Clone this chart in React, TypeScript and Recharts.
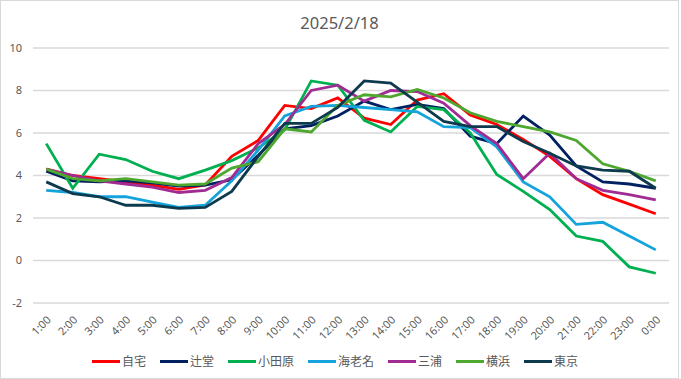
import React from "react"
import { LineChart, Line, XAxis, YAxis, CartesianGrid, Legend } from "recharts"

const hours = [
  "1:00", "2:00", "3:00", "4:00", "5:00", "6:00", "7:00", "8:00", "9:00", "10:00", "11:00", "12:00",
  "13:00", "14:00", "15:00", "16:00", "17:00", "18:00", "19:00", "20:00", "21:00", "22:00", "23:00", "0:00",
]

const jitaku = [4.3, 4.0, 3.85, 3.7, 3.55, 3.35, 3.55, 4.9, 5.65, 7.3, 7.15, 7.65, 6.7, 6.4, 7.55, 7.85, 6.85, 6.4, 5.7, 4.9, 3.85, 3.1, 2.65, 2.2]
const tsujido = [4.2, 3.75, 3.7, 3.75, 3.65, 3.5, 3.55, 3.8, 4.95, 6.2, 6.35, 6.8, 7.5, 7.1, 7.35, 7.15, 5.85, 5.5, 6.8, 5.9, 4.45, 3.7, 3.6, 3.4]
const odawara = [5.5, 3.4, 5.0, 4.75, 4.2, 3.85, 4.25, 4.7, 5.3, 6.15, 8.45, 8.25, 6.6, 6.05, 7.25, 7.1, 6.0, 4.05, 3.25, 2.4, 1.15, 0.9, -0.3, -0.6]
const ebina = [3.3, 3.2, 3.0, 3.0, 2.75, 2.5, 2.6, 3.75, 5.2, 6.8, 7.25, 7.3, 7.2, 7.1, 7.0, 6.3, 6.25, 5.35, 3.7, 3.0, 1.7, 1.8, 1.15, 0.5]
const miura = [4.3, 4.0, 3.75, 3.6, 3.45, 3.2, 3.3, 3.9, 5.5, 6.4, 8.0, 8.25, 7.5, 8.0, 7.95, 7.4, 6.35, 5.5, 3.85, 5.05, 3.85, 3.3, 3.1, 2.85]
const yokohama = [4.3, 3.85, 3.75, 3.85, 3.7, 3.55, 3.6, 4.35, 4.65, 6.2, 6.05, 7.3, 7.8, 7.7, 8.05, 7.65, 6.95, 6.55, 6.3, 6.05, 5.65, 4.55, 4.2, 3.75]
const tokyo = [3.7, 3.15, 3.0, 2.6, 2.6, 2.45, 2.5, 3.25, 4.9, 6.45, 6.45, 7.2, 8.45, 8.35, 7.45, 6.55, 6.3, 6.3, 5.6, 5.05, 4.45, 4.25, 4.2, 3.4]

const yTicks = [-2, 0, 2, 4, 6, 8, 10]

const series = [
  { key: "自宅", values: jitaku, color: "#FF0000" },
  { key: "辻堂", values: tsujido, color: "#002060" },
  { key: "小田原", values: odawara, color: "#00B050" },
  { key: "海老名", values: ebina, color: "#14A3DB" },
  { key: "三浦", values: miura, color: "#A02B93" },
  { key: "横浜", values: yokohama, color: "#4EA72E" },
  { key: "東京", values: tokyo, color: "#0E3A4E" },
]

const data = hours.map((h, i) => {
  const row: Record<string, string | number> = { hour: h }
  series.forEach(s => { row[s.key] = s.values[i] })
  return row
})

const font = '"Noto Sans", "Noto Sans CJK JP", sans-serif'

// keep the series order (Recharts sorts the payload by default)
const renderLegend = () => (
  <div style={{ display: "flex", justifyContent: "center", gap: 14, fontFamily: font, fontSize: 12, color: "#595959" }}>
    {series.map(s => (
      <div key={s.key} style={{ display: "flex", alignItems: "center" }}>
        <div style={{ width: 28, height: 3, background: s.color, marginRight: 2 }} />
        <span>{s.key}</span>
      </div>
    ))}
  </div>
)

export default function App() {
  return (
    <div style={{ position: "absolute", left: 0, top: 0, width: 677, height: 377, border: "1px solid #d9d9d9", background: "#fff", fontFamily: font }}>
      <div style={{ position: "absolute", top: 10, width: "100%", textAlign: "center", fontSize: 16.5, color: "#595959" }}>
        2025/2/18
      </div>
      <LineChart width={677} height={377} data={data} margin={{ top: 47, right: 9, bottom: 0, left: 0 }}>
        <CartesianGrid vertical={false} stroke="#d9d9d9" strokeWidth={1.5} />
        <XAxis
          dataKey="hour"
          scale="band"
          axisLine={false}
          tickLine={false}
          interval={0}
          angle={-45}
          textAnchor="end"
          height={49}
          tickMargin={6}
          tick={{ fill: "#595959", fontSize: 11 }}
        />
        <YAxis
          domain={[-2, 10]}
          ticks={yTicks}
          width={32}
          axisLine={false}
          tickLine={false}
          tickSize={0}
          tickMargin={11}
          tick={{ fill: "#595959", fontSize: 11 }}
        />
        <Legend verticalAlign="bottom" height={26} content={renderLegend} />
        {series.map(s => (
          <Line
            key={s.key}
            type="linear"
            dataKey={s.key}
            stroke={s.color}
            strokeWidth={2.8}
            dot={false}
            isAnimationActive={false}
          />
        ))}
      </LineChart>
    </div>
  )
}
